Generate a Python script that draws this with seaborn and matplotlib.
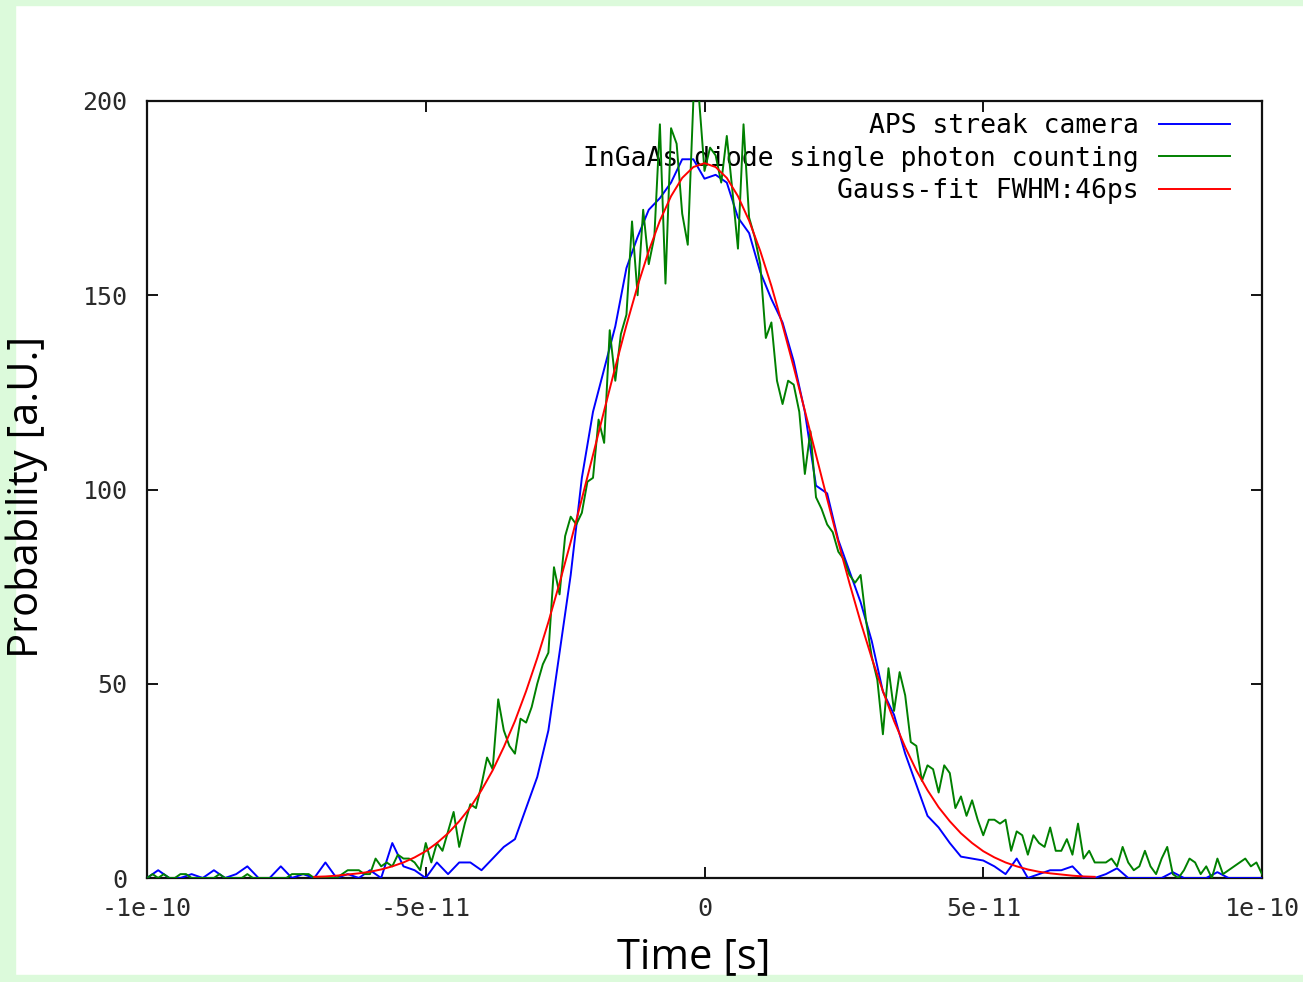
import matplotlib
matplotlib.use("Agg")
import matplotlib.pyplot as plt
from matplotlib.patches import Rectangle
import seaborn as sns
import numpy as np

# time grids in ps
blue_t = np.arange(-100, 101, 2)
green_t = np.arange(-100, 101, 1)
fit_t = np.arange(-70, 71, 2)

# APS streak camera (every 2 ps)
blue_vals = [
    0, 2, 0, 0, 1, 0, 2, 0, 1, 3,
    0, 0, 3, 0, 1, 0, 4, 0, 1, 0,
    2, 0, 9, 3, 2, 0, 4, 1, 4, 4,
    2, 5, 8, 10, 18, 26, 38, 58, 78, 103,
    120, 131, 142, 157, 165, 172, 175, 179, 185, 185,
    180,
    181, 179, 170, 166, 156, 149, 143, 133, 120, 101,
    99, 87, 79, 71, 61, 48, 42, 32, 24, 16,
    13, 9, 5.5, 5, 4.5, 3, 1, 5, 0, 1,
    2, 2, 3, 0, 0, 1, 2.5, 0, 0, 0,
    0, 1.5, 0, 0, 0, 1.5, 0, 0, 0, 0,
]

# InGaAs diode single photon counting (every 1 ps)
green_vals = [
    0, 1, 0, 1, 0, 0, 1, 1, 0, 0,
    0, 0, 0, 1, 0, 0, 0, 0, 1, 0,
    0, 0, 0, 0, 0, 0, 1, 1, 1, 1,
    0, 0, 0, 0, 0, 1, 2, 2, 2, 1,
    1, 5, 3, 4, 3, 6, 5, 5, 4, 2,
    9, 4, 9, 7, 12, 17, 8, 14, 19, 18,
    24, 31, 28, 46, 38, 34, 32, 41, 40, 44,
    50, 55, 58, 80, 73, 88, 93, 91, 94, 102,
    103, 118, 112, 141, 128, 140, 145, 169, 150, 172,
    158, 165, 194, 153, 193, 189, 171, 163, 200, 201,
    182, 188, 186, 179, 191, 177, 162, 194, 170, 165,
    158, 139, 143, 128, 122, 128, 127, 120, 104, 115,
    98, 95, 91, 89, 84, 82, 78, 76, 78, 66,
    57, 51, 37, 54, 43, 53, 47, 35, 34, 25,
    29, 28, 22, 29, 27, 18, 21, 16, 20, 15,
    11, 15, 15, 14, 15, 7, 12, 11, 6, 11,
    9, 8, 13, 7, 7, 10, 6, 14, 5, 7,
    4, 4, 4, 5, 3, 8, 4, 2, 3, 7,
    3, 1, 5, 8, 1, 0, 2, 5, 4, 1,
    3, 0, 5, 1, 2, 3, 4, 5, 3, 4,
    1,
]

# Gauss fit (every 2 ps, -70..70)
fit_vals = [
    0.3, 0.4, 0.6, 0.9, 1.2, 1.6, 2.2, 3.0, 4.0, 5.3,
    6.9, 9.0, 11.5, 14.6, 18.2, 22.6, 27.7, 33.7, 40.4, 48.1,
    56.6, 65.9, 75.9, 86.5, 97.6, 108.9, 120.3, 131.5, 142.3, 152.4,
    161.4, 169.2, 175.5, 180.2, 183.0,
    184.0,
    183.0, 180.2, 175.5, 169.2, 161.4, 152.4, 142.3, 131.5, 120.3, 108.9,
    97.6, 86.5, 75.9, 65.9, 56.6, 48.1, 40.4, 33.7, 27.7, 22.6,
    18.2, 14.6, 11.5, 9.0, 6.9, 5.3, 4.0, 3.0, 2.2, 1.6,
    1.2, 0.9, 0.6, 0.4, 0.3,
]

labels = ["APS streak camera", "InGaAs diode single photon counting",
          "Gauss-fit FWHM:46ps"]
colors = ["#0000ff", "#008000", "#ff0000"]
xticks = [-1e-10, -5e-11, 0, 5e-11, 1e-10]
xtick_labels = ["-1e-10", "-5e-11", "0", "5e-11", "1e-10"]
yticks = [0, 50, 100, 150, 200]

mono = ["DejaVu Sans Mono"]
narrow = ["Liberation Sans Narrow", "Open Sans", "DejaVu Sans"]

W, H = 1303, 982
fig = plt.figure(figsize=(W / 100, H / 100), dpi=100)
fig.patch.set_facecolor("white")
ax = fig.add_axes([147 / W, (H - 878) / H, (1262 - 147) / W, (878 - 101) / H])

series = [(blue_t, blue_vals), (green_t, green_vals), (fit_t, fit_vals)]
for i, ((t, v), lab, c) in enumerate(zip(series, labels, colors)):
    sns.lineplot(x=np.asarray(t) * 1e-12, y=v, ax=ax, color=c, lw=1.4,
                 label=lab, estimator=None, zorder=3 + i)

ax.set_xlim(-1e-10, 1e-10)
ax.set_ylim(0, 200)
ax.set_xticks(xticks)
ax.set_xticklabels(xtick_labels, family=mono, fontsize=18, color="#2a2a2a")
ax.set_yticks(yticks)
ax.set_yticklabels([str(y) for y in yticks], family=mono, fontsize=18,
                   color="#2a2a2a")
ax.tick_params(direction="in", length=8, width=1.3, top=True, right=True)
ax.tick_params(axis="x", pad=14)
ax.tick_params(axis="y", pad=14)
for s in ax.spines.values():
    s.set_linewidth(1.6)
    s.set_color("#111111")

ax.set_xlabel("Time [s]", family=narrow, fontsize=30)
ax.xaxis.set_label_coords(0.49, -0.075)
ax.set_ylabel("Probability [a.U.]", family=narrow, fontsize=30)
ax.yaxis.set_label_coords(-0.089, 0.49)

leg = ax.legend(loc="upper right", bbox_to_anchor=(1 - 32 / 1115, 1 - 12 / 777),
                frameon=False, markerfirst=False, prop={"family": mono, "size": 19},
                handlelength=2.7, handletextpad=0.75, labelspacing=0.25,
                borderaxespad=0, borderpad=0)
leg.set_zorder(1)

# light green frame round the picture, under the texts
green_frame = "#dcfadb"
for rect in [(0, 0, 15 / W, 1), (0, 1 - 5 / H, 1, 5 / H), (0, 0, 1, 7 / H)]:
    fig.patches.append(Rectangle(rect[:2], rect[2], rect[3],
                                 transform=fig.transFigure,
                                 color=green_frame, zorder=-1))

fig.savefig("out.png", dpi=100)
